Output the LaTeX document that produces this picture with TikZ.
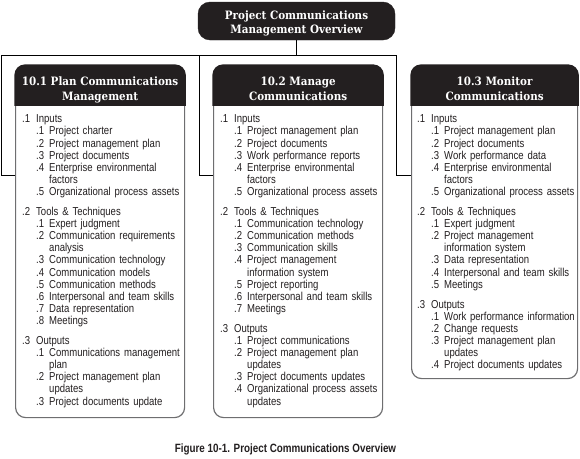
\documentclass[tikz,border=0pt]{standalone}
\usepackage{fontspec}
\setmainfont{Liberation Sans}[FakeStretch=0.83]
\newfontfamily\headfont{DejaVu Serif}[FakeStretch=0.9]
\newfontfamily\capfont{Liberation Sans}[FakeStretch=0.82]

\definecolor{ink}{HTML}{231F20}
\definecolor{rim}{HTML}{6E6E70}

% list lines: level one, level two, wrapped continuation, group gap
\newcommand\Lone[2]{\par\noindent\strut\makebox[14pt][l]{#1}#2}
\newcommand\Ltwo[2]{\par\noindent\strut\hspace*{14pt}\makebox[13pt][l]{#1}#2}
\newcommand\Lcont[1]{\par\noindent\strut\hspace*{27pt}#1}
\newcommand\Lgap{\par\vspace{8pt}}

\tikzset{
  procbox/.style={draw=rim, line width=1.2pt, fill=white, rounded corners=10pt,
    anchor=north west, inner sep=0pt},
  headtxt/.style={anchor=north, align=center, text=white, inner sep=0pt,
    font=\headfont\bfseries\fontsize{11.5}{15}\selectfont},
  bodytxt/.style={anchor=north west, inner sep=0pt, text width=200pt, text=ink,
    font=\fontsize{11.5}{12.1}\selectfont},
  conn/.style={draw=black, line width=0.9pt},
}

\begin{document}
\begin{tikzpicture}[x=1pt, y=-1pt]
\useasboundingbox (0,0) rectangle (580,458);

% overview box at the top
\node[fill=ink, draw=ink, rounded corners=12pt, minimum width=197pt,
  minimum height=38pt, inner sep=0pt] (top) at (296.5,21) {};
\node[headtxt, font=\headfont\bfseries\fontsize{11.5}{14}\selectfont]
  (toptxt) at (296.5,9.7) {\strut Project Communications\\\strut Management Overview};

% the three process boxes
\node[procbox, minimum width=169pt, minimum height=352pt] (p1) at (15,65) {};
\node[procbox, minimum width=169pt, minimum height=352pt] (p2) at (213,65) {};
\node[procbox, minimum width=166pt, minimum height=313pt] (p3) at (411,65) {};

% dark title bands
\foreach \b in {p1,p2,p3}{
  \begin{scope}
    \clip ([xshift=-2pt,yshift=2pt]\b.north west) rectangle ([xshift=2pt,yshift=-40pt]\b.north east);
    \filldraw[fill=ink, draw=ink, line width=1.2pt, rounded corners=10pt]
      (\b.north west) rectangle (\b.south east);
  \end{scope}
}

\node[headtxt] (p1h) at ([yshift=-9.5pt]p1.north)
  {\strut 10.1 Plan Communications\\\strut Management};
\node[headtxt] (p2h) at ([yshift=-9.5pt]p2.north)
  {\strut 10.2 Manage\\\strut Communications};
\node[headtxt] (p3h) at ([yshift=-9.5pt]p3.north)
  {\strut 10.3 Monitor\\\strut Communications};

% connectors from the overview box
\coordinate (j1) at (1.5,55);
\coordinate (j2) at (199,55);
\coordinate (j3) at (396.5,55);
\coordinate (p1in) at ([yshift=-110pt]p1.north west);
\coordinate (p2in) at ([yshift=-110pt]p2.north west);
\coordinate (p3in) at ([yshift=-110pt]p3.north west);
\draw[conn] (top.south) |- (j1) |- (p1in);
\draw[conn] (j2) |- (p2in);
\draw[conn] (top.south) |- (j3) |- (p3in);

% process contents
\node[bodytxt] (p1b) at ([xshift=7pt,yshift=-45.5pt]p1.north west) {%
\Lone{.1}{Inputs}
\Ltwo{.1}{Project charter}
\Ltwo{.2}{Project management plan}
\Ltwo{.3}{Project documents}
\Ltwo{.4}{Enterprise environmental}
\Lcont{factors}
\Ltwo{.5}{Organizational process assets}
\Lgap
\Lone{.2}{Tools \& Techniques}
\Ltwo{.1}{Expert judgment}
\Ltwo{.2}{Communication requirements}
\Lcont{analysis}
\Ltwo{.3}{Communication technology}
\Ltwo{.4}{Communication models}
\Ltwo{.5}{Communication methods}
\Ltwo{.6}{Interpersonal and team skills}
\Ltwo{.7}{Data representation}
\Ltwo{.8}{Meetings}
\Lgap
\Lone{.3}{Outputs}
\Ltwo{.1}{Communications management}
\Lcont{plan}
\Ltwo{.2}{Project management plan}
\Lcont{updates}
\Ltwo{.3}{Project documents update}};

\node[bodytxt] (p2b) at ([xshift=7pt,yshift=-45.5pt]p2.north west) {%
\Lone{.1}{Inputs}
\Ltwo{.1}{Project management plan}
\Ltwo{.2}{Project documents}
\Ltwo{.3}{Work performance reports}
\Ltwo{.4}{Enterprise environmental}
\Lcont{factors}
\Ltwo{.5}{Organizational process assets}
\Lgap
\Lone{.2}{Tools \& Techniques}
\Ltwo{.1}{Communication technology}
\Ltwo{.2}{Communication methods}
\Ltwo{.3}{Communication skills}
\Ltwo{.4}{Project management}
\Lcont{information system}
\Ltwo{.5}{Project reporting}
\Ltwo{.6}{Interpersonal and team skills}
\Ltwo{.7}{Meetings}
\Lgap
\Lone{.3}{Outputs}
\Ltwo{.1}{Project communications}
\Ltwo{.2}{Project management plan}
\Lcont{updates}
\Ltwo{.3}{Project documents updates}
\Ltwo{.4}{Organizational process assets}
\Lcont{updates}};

\node[bodytxt] (p3b) at ([xshift=6pt,yshift=-45.5pt]p3.north west) {%
\Lone{.1}{Inputs}
\Ltwo{.1}{Project management plan}
\Ltwo{.2}{Project documents}
\Ltwo{.3}{Work performance data}
\Ltwo{.4}{Enterprise environmental}
\Lcont{factors}
\Ltwo{.5}{Organizational process assets}
\Lgap
\Lone{.2}{Tools \& Techniques}
\Ltwo{.1}{Expert judgment}
\Ltwo{.2}{Project management}
\Lcont{information system}
\Ltwo{.3}{Data representation}
\Ltwo{.4}{Interpersonal and team skills}
\Ltwo{.5}{Meetings}
\Lgap
\Lone{.3}{Outputs}
\Ltwo{.1}{Work performance information}
\Ltwo{.2}{Change requests}
\Ltwo{.3}{Project management plan}
\Lcont{updates}
\Ltwo{.4}{Project documents updates}};

% figure caption
\node[anchor=base, inner sep=0pt, text=ink, font=\capfont\bfseries\fontsize{12}{14}\selectfont]
  (cap) at (285.5,452) {Figure 10-1. Project Communications Overview};
\end{tikzpicture}
\end{document}
